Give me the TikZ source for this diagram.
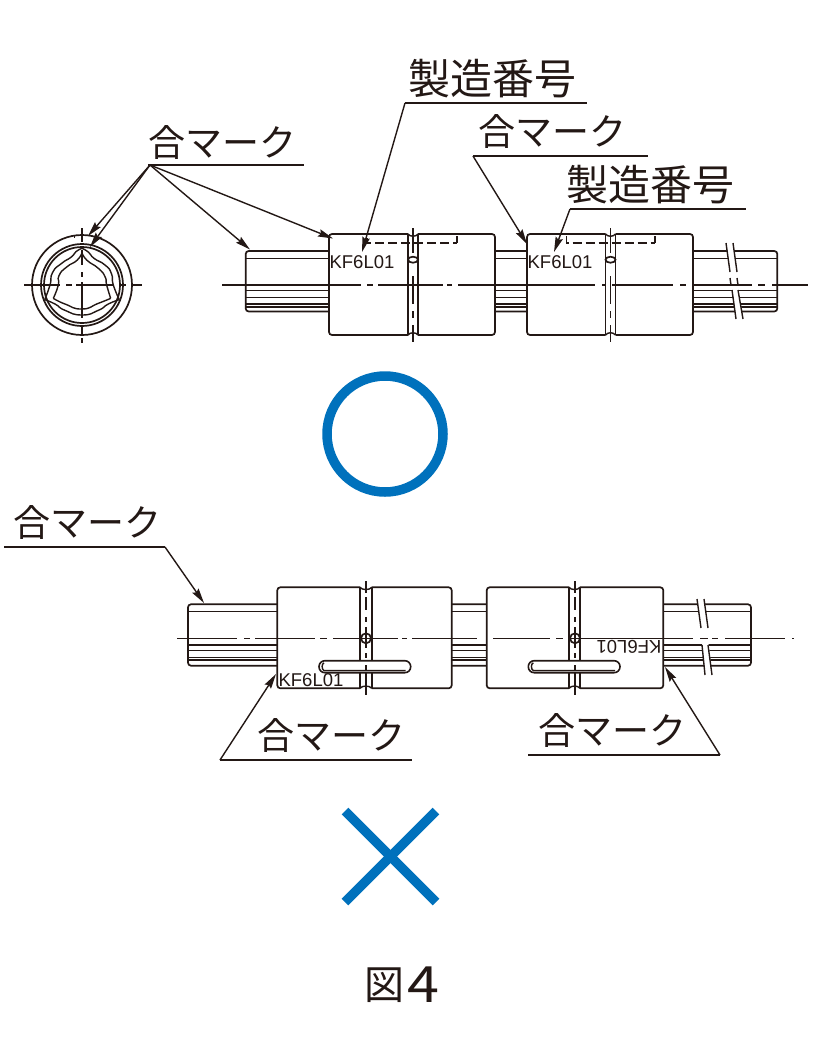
\documentclass[tikz,border=0pt]{standalone}
\usepackage{fontspec}
\usepackage{graphicx}
\setmainfont{Liberation Sans}
\newfontfamily\cjk{Noto Sans CJK JP}
\usetikzlibrary{arrows.meta}
\definecolor{ink}{HTML}{231815}
\definecolor{markblue}{HTML}{0071BC}
\tikzset{
  x=1pt,y=-1pt,
  ln/.style={draw=ink,line width=1.7pt},
  thin ln/.style={draw=ink,line width=1.4pt},
  leader/.style={draw=ink,line width=1.3pt},
  pointer/.style={draw=ink,line width=1.4pt,-{Stealth[length=15pt,width=7.5pt,inset=2pt]}},
  jp/.style={inner sep=0pt,text=ink,font=\cjk\fontsize{37}{37}\selectfont},
  jpb/.style={inner sep=0pt,text=ink,font=\cjk\fontsize{42}{42}\selectfont},
  serial/.style={inner sep=0pt,text=ink,font=\fontsize{18.5}{18.5}\selectfont},
  verdict/.style={draw=markblue,line width=9.5pt},
}
% horizontal segments / vertical segments of chain lines
\newcommand{\chainh}[2]{\foreach \a/\b in {#2} {\draw[thin ln] (\a,#1) -- (\b,#1);}}
\newcommand{\chainv}[2]{\foreach \a/\b in {#2} {\draw[thin ln] (#1,\a) -- (#1,\b);}}
% nut: x1 x2 x3 x4 ytop ybot
\newcommand{\nut}[6]{
  \fill[white] (#1,#5) rectangle (#4,#6);
  \draw[ln,rounded corners=3pt] (#2,#5) -- (#1,#5) -- (#1,#6) -- (#2,#6);
  \draw[ln,rounded corners=3pt] (#3,#5) -- (#4,#5) -- (#4,#6) -- (#3,#6);
  \draw[ln] (#2,#5) -- (#2,#6) (#3,#5) -- (#3,#6);
  \draw[thin ln] (#2,#5) .. controls (#2+2,#5+3) and (#3-2,#5+3) .. (#3,#5);
  \draw[thin ln] (#2,#6) .. controls (#2+2,#6-3) and (#3-2,#6-3) .. (#3,#6);
}
% slot: x1 x2
\newcommand{\slotkey}[2]{
  \fill[white,draw=ink,line width=1.6pt,rounded corners=5.9pt] (#1,660.7) rectangle (#2,672.7);
  \draw[thin ln] (#1+5,662.8) .. controls (#1+2.5,663.5) and (#1+2.5,669.5) .. (#1+5,670.6) -- (#2-5,670.6);
}
\begin{document}
\begin{tikzpicture}
\useasboundingbox (0,0) rectangle (819,1057);

% ---------- end view ----------
\draw[ln] (82,285) circle[radius=50pt];
\draw[ln] (82,285) circle[radius=41pt];
\draw[ln] (82,285) circle[radius=38pt];
\begin{scope}[shift={(30,235)},x=0.33333pt,y=-0.33333pt]
  % outer lobed contour
  \draw[thin ln] plot[smooth,tension=1] coordinates {(156,40) (176,52) (192,70) (225,90) (244,115) (250,150) (268,194)};
  \draw[thin ln] plot[smooth,tension=1] coordinates {(268,194) (235,207) (205,226) (156,240) (105,226) (75,207) (44,194)};
  \draw[thin ln] plot[smooth,tension=1] coordinates {(44,194) (60,150) (68,112) (95,85) (124,66) (138,50) (156,40)};
  % inner lobed contour
  \draw[thin ln] plot[smooth,tension=1] coordinates {(156,52) (170,75) (205,100) (225,125) (230,150) (242,190)};
  \draw[thin ln] plot[smooth,tension=1] coordinates {(242,190) (205,205) (156,222) (105,207) (70,190)};
  \draw[thin ln] plot[smooth,tension=1] coordinates {(70,190) (85,150) (87,122) (110,96) (142,75) (156,52)};
  \draw[thin ln] (133,0) -- (133,8);
\end{scope}
\chainh{285}{24/60,66/72,76/113,120/126,132/142}
\chainv{82}{228/242,250/265,272/277,282/318,325/335,338/343}

% ---------- upper assembly: shaft ----------
\draw[ln,rounded corners=3pt] (245.7,311.5) -- (245.7,251) -- (777.3,251) -- (777.3,311.5) -- cycle;
\foreach \yy in {258.5,290.7,297.5,304,306.8}{\draw[thin ln] (245.7,\yy) -- (777.3,\yy);}
\fill[white] (726.5,247) -- (733.5,247) -- (737,272) -- (730,272) -- cycle;
\fill[white] (732,288) -- (738.5,288) -- (743,319) -- (736,319) -- cycle;
\draw[thin ln] (726,243) -- (730,272) (733,243) -- (737,272);
\draw[thin ln] (732,290) -- (736,319) (738,290) -- (743,319);
\draw[thin ln] (730,278) -- (731,285) (737,278) -- (738,285);

\nut{329}{408}{418}{495}{234}{335}
\nut{527}{605.5}{615.5}{693}{234}{335}

\draw[thin ln,dash pattern=on 9pt off 4pt] (367,238) -- (367,243) -- (457,243);
\draw[thin ln] (457,243) -- (457,236);
\draw[thin ln,dash pattern=on 9pt off 4pt] (566.5,236) -- (566.5,243) -- (655,243);
\draw[thin ln] (655,243) -- (655,236);

\chainh{285}{222/361,367/373,378/443,447/452,458/595,602/606,612/673,680/686,693/752,758/765,772/808}
\chainv{413}{228/253,276/304,311/318,325/342}
\chainv{610.5}{228/253,276/304,311/318,325/342}
\draw[ln,fill=white] (413,259.7) ellipse[x radius=5pt,y radius=3pt];
\draw[ln,fill=white] (610.5,259.7) ellipse[x radius=5pt,y radius=3pt];

\node[serial] (s1) at (362,262.5) {KF6L01};
\node[serial] (s2) at (560,262.5) {KF6L01};

% ---------- lower assembly: shaft ----------
\draw[ln,rounded corners=3pt] (188,665.7) -- (188,604.3) -- (751,604.3) -- (751,665.7) -- cycle;
\foreach \yy in {611.7,645,650.7,657.3,660}{\draw[thin ln] (188,\yy) -- (751,\yy);}
\fill[white] (697.5,600) -- (704.5,600) -- (708,628) -- (701,628) -- cycle;
\fill[white] (702,643) -- (708.5,643) -- (712,675) -- (705,675) -- cycle;
\draw[thin ln] (697,599) -- (701,628) (704,599) -- (708,628);
\draw[thin ln] (702,645) -- (705,675) (708,645) -- (712,675);

\nut{277.3}{360}{371.7}{451.7}{587.3}{688.3}
\nut{486.7}{569}{580}{663.3}{587.3}{688.3}

\chainh{638.3}{177/237,244/250,255/315,320/327,333/398,402/407,412/477,493/550,556/563,568/693,700/708,712/718,725/785,792/794}
\chainv{366}{581/593,597/610,617/622,627/648,653/658}
\chainv{575}{581/593,597/610,617/622,627/648,653/658}
\draw[ln] (366,638.3) circle[radius=5pt];
\draw[ln] (575,638.3) circle[radius=5pt];
\slotkey{319}{410.7}
\slotkey{528.3}{620}
\chainv{366}{665/670,673/695}
\chainv{575}{665/670,673/695}

\node[serial] (s3) at (311,680) {KF6L01};
\node[serial,rotate=180] (s4) at (629,647) {KF6L01};

% ---------- labels ----------
\node[jp]  (m1) at (222,142) {合マーク};
\node[jpb] (n1) at (492,79) {製造番号};
\node[jp]  (m2) at (552,131) {合マーク};
\node[jpb] (n2) at (650,185) {製造番号};
\node[jp]  (m3) at (87,522) {合マーク};
\node[jp]  (m4) at (331,735) {合マーク};
\node[jp]  (m5) at (612,730) {合マーク};

% leader anchors
\coordinate (m1s) at (148,165);  \coordinate (m1e) at (304,165);
\coordinate (n1s) at (405,103);  \coordinate (n1e) at (587,103);
\coordinate (m2s) at (473,156);  \coordinate (m2e) at (648,156);
\coordinate (n2s) at (570,209);  \coordinate (n2e) at (746,209);
\coordinate (m3s) at (4,547);    \coordinate (m3e) at (165,547);
\coordinate (m4s) at (220,760);  \coordinate (m4e) at (412,760);
\coordinate (m5s) at (528,755);  \coordinate (m5e) at (720,755);
\draw[leader] (m1s) -- (m1e) (n1s) -- (n1e) (m2s) -- (m2e) (n2s) -- (n2e) (m3s) -- (m3e) (m4s) -- (m4e) (m5s) -- (m5e);

% arrow targets
\coordinate (t1) at (88,236);
\coordinate (t2) at (90,247);
\coordinate (t3) at (250,249.5);
\coordinate (t4) at (333,238.5);
\coordinate (t5) at (362,252);
\coordinate (t6) at (527,244);
\coordinate (t7) at (554,252);
\coordinate (t8) at (204,603);
\coordinate (t9) at (276,674);
\coordinate (t10) at (665,667);
\coordinate (fan) at (150,165);
\foreach \t in {t1,t2,t3,t4}{\draw[pointer] (fan) -- (\t);}
\draw[pointer] (n1s) -- (t5);
\draw[pointer] (m2s) -- (t6);
\draw[pointer] (n2s) -- (t7);
\draw[pointer] (m3e) -- (t8);
\draw[pointer] (m4s) -- (t9);
\draw[pointer] (m5e) -- (t10);

% ---------- verdict marks ----------
\draw[verdict] (385,434) circle[radius=58pt];
\draw[verdict] (345,811) -- (436,902);
\draw[verdict] (436,811) -- (345,902);

\node[inner sep=0pt,text=ink,font=\cjk\fontsize{40}{40}\selectfont] (fig) at (402,985) {\raisebox{3pt}{図}\hspace{3pt}{\fontsize{50}{50}\selectfont\scalebox{1.15}[1]{4}}};
\end{tikzpicture}
\end{document}
